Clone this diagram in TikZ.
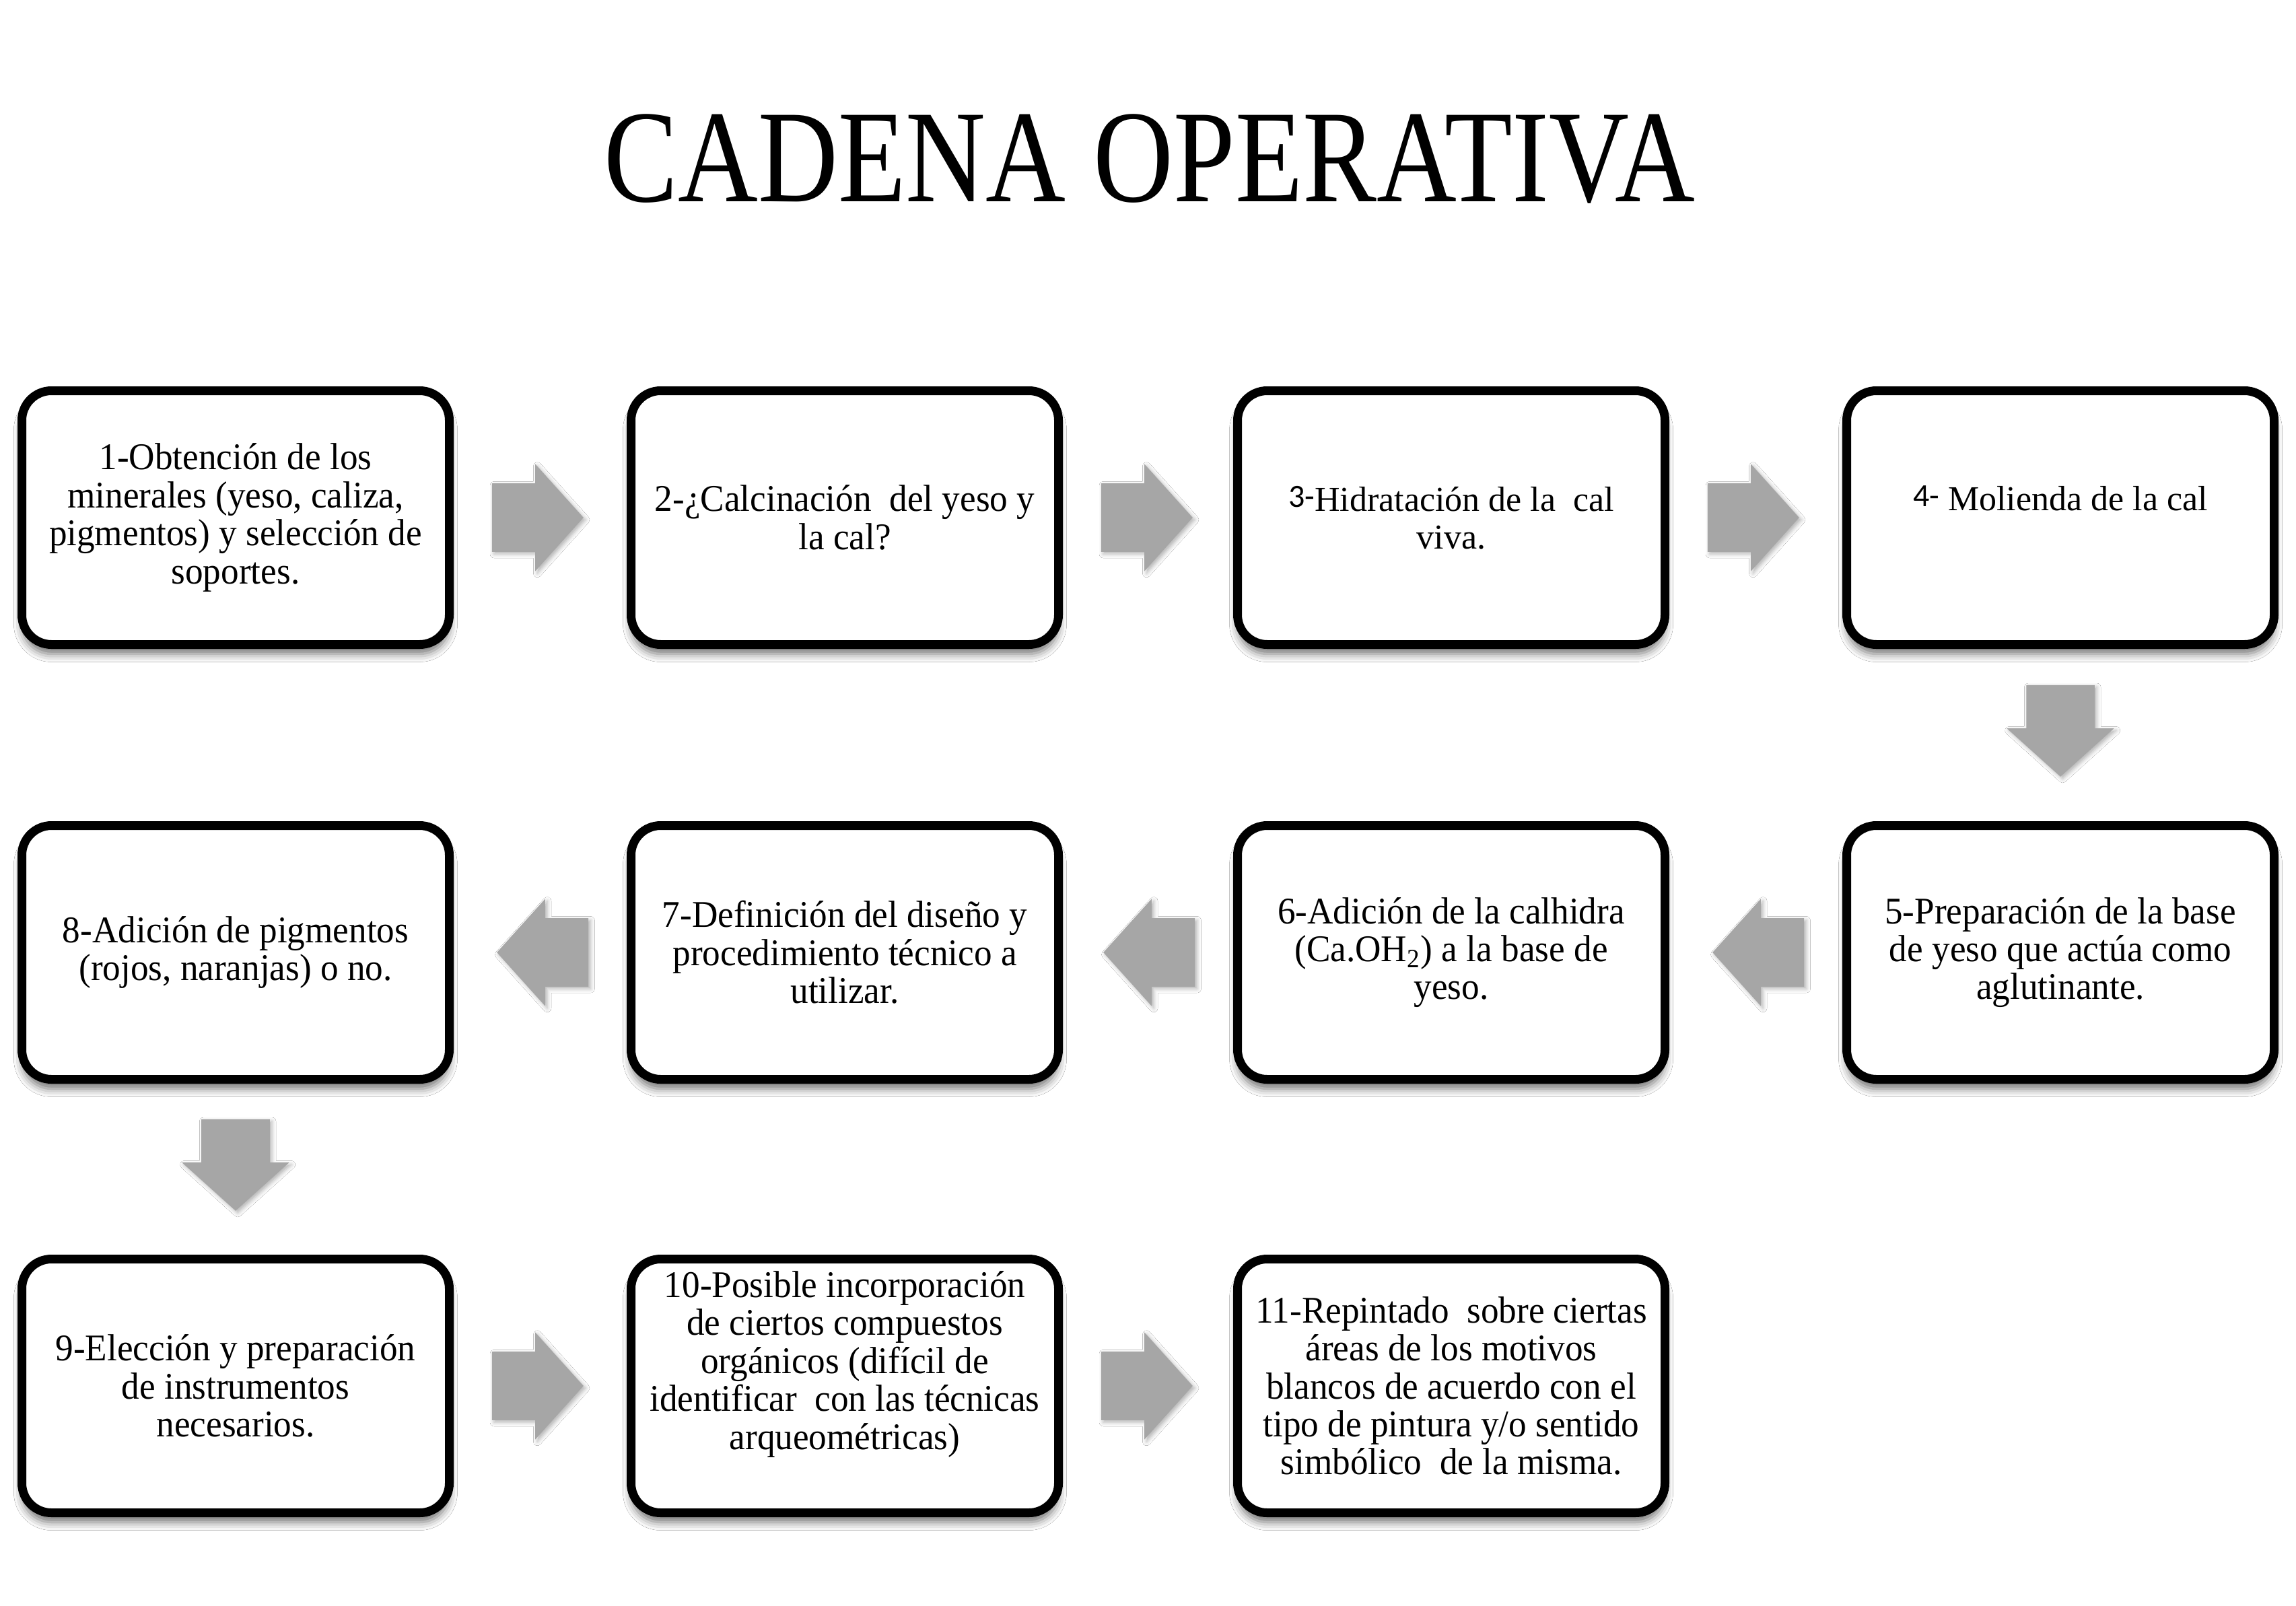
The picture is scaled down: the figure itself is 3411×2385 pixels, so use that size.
\documentclass[tikz,border=0pt]{standalone}
\usepackage{fontspec}
\setmainfont{Liberation Serif}
\newfontfamily\condfont[FakeStretch=0.95]{Liberation Serif}
\newfontfamily\titlefont[FakeStretch=0.84]{Liberation Serif}
\newfontfamily\numfont{Carlito}
\usetikzlibrary{shapes.arrows,shadows.blur,calc}
\definecolor{arrowgray}{HTML}{A6A6A6}
\newcommand\liftup[2]{\raisebox{#1}[\height][\depth]{\begin{tabular}{@{}c@{}}#2\end{tabular}}}
\begin{document}
\begin{tikzpicture}[x=0.25pt,y=-0.25pt,
  stepbox/.style={draw=black, line width=3.25pt, rounded corners=11pt, fill=white,
    minimum width=158.75pt, minimum height=94.25pt, inner sep=0pt, align=center,
    font=\condfont\fontsize{14}{14.1}\selectfont,
    blur shadow={shadow xshift=0pt, shadow yshift=-3.5pt, shadow blur radius=3pt, shadow opacity=55}},
  plainbox/.style={stepbox, font=\fontsize{13}{14.1}\selectfont},
  blockarrow/.style={single arrow, fill=arrowgray, draw=none, minimum width=39.5pt,
    minimum height=34pt, single arrow head extend=7.2pt, single arrow tip angle=96,
    inner xsep=0pt, inner ysep=12.5pt, anchor=tail,
    blur shadow={shadow xshift=0.8pt, shadow yshift=-0.8pt, shadow blur radius=1.5pt, shadow opacity=30}},
  leftarrow/.style={blockarrow, rotate=180},
  downarrow/.style={blockarrow, rotate=270}
]
\useasboundingbox[fill=white] (0,0) rectangle (3411,2385);

\node[font=\titlefont\fontsize{49}{49}\selectfont, anchor=base] (title) at (1708,300) {CADENA OPERATIVA};

% row 1
\node[stepbox] (b1) at (350,769) {1-Obtención de los\\minerales (yeso, caliza,\\pigmentos) y selección de\\soportes.};
\node[stepbox] (b2) at (1255,769) {2-¿Calcinación\ \ del yeso y\\la cal?};
\node[plainbox] (b3) at (2156,769) {\raisebox{1.5pt}{\numfont\fontsize{12}{14}\selectfont 3-}Hidratación de la\ \ cal\\viva.};
\node[plainbox] (b4) at (3061,769) {\liftup{5.5pt}{\raisebox{1.5pt}{\numfont\fontsize{12}{14}\selectfont 4-} Molienda de la cal}};

% row 2
\node[stepbox] (b5) at (3061,1415) {5-Preparación de la base\\de yeso que actúa como\\aglutinante.};
\node[stepbox] (b6) at (2156,1415) {6-Adición\ de la calhidra\\(Ca.OH\textsubscript{2}) a la base de\\yeso.};
\node[stepbox] (b7) at (1255,1415) {7-Definición\ del diseño y\\procedimiento técnico a\\utilizar.};
\node[stepbox] (b8) at (350,1415) {8-Adición\ de pigmentos\\(rojos, naranjas) o no.};

% row 3
\node[stepbox] (b9) at (350,2059) {9-Elección y preparación\\de instrumentos\\necesarios.};
\node[stepbox] (b10) at (1255,2059) {\liftup{7.5pt}{10-Posible incorporación\\de ciertos compuestos\\orgánicos (difícil de\\identificar\ \ con las técnicas\\arqueométricas)}};
\node[stepbox] (b11) at (2156,2059) {11-Repintado\ \ sobre ciertas\\áreas de los motivos\\blancos de acuerdo con el\\tipo de pintura y/o sentido\\simbólico\ \ de la misma.};

% arrows
\node[blockarrow] (a12) at ($(b1.east)+(56,0)$) {};
\node[blockarrow] (a23) at ($(b2.east)+(56,0)$) {};
\node[blockarrow] (a34) at ($(b3.east)+(56,0)$) {};
\node[downarrow] (a45) at ($(b4.south)+(0,53)$) {};
\node[leftarrow] (a56) at ($(b5.west)+(-56,0)$) {};
\node[leftarrow] (a67) at ($(b6.west)+(-56,0)$) {};
\node[leftarrow] (a78) at ($(b7.west)+(-56,0)$) {};
\node[downarrow] (a89) at ($(b8.south)+(0,52)$) {};
\node[blockarrow] (a910) at ($(b9.east)+(56,0)$) {};
\node[blockarrow] (a1011) at ($(b10.east)+(56,0)$) {};
\end{tikzpicture}
\end{document}
